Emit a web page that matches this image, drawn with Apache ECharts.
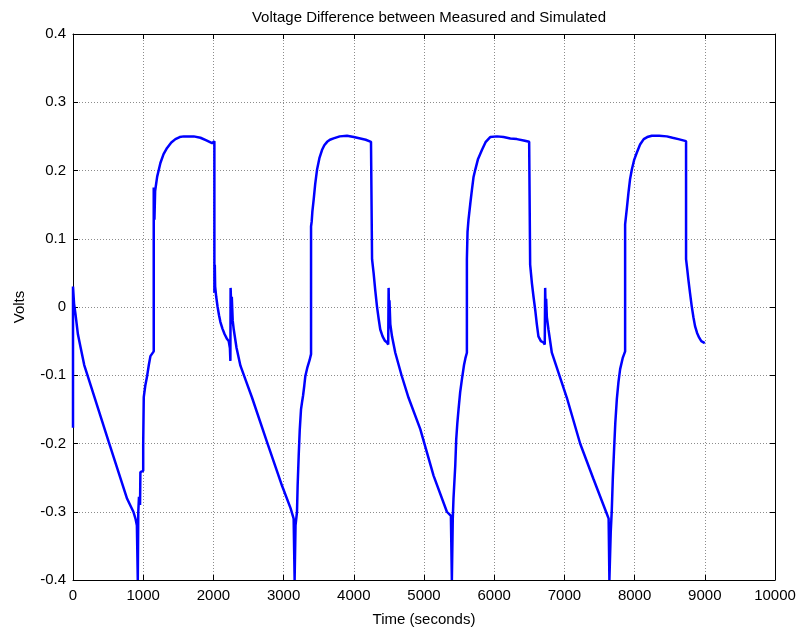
<!DOCTYPE html>
<html>
<head>
<meta charset="utf-8">
<script src="https://cdn.jsdelivr.net/npm/echarts@6/dist/echarts.min.js"></script>
<style>html,body{margin:0;padding:0;background:#fff}#c{width:803px;height:632px}</style>
</head>
<body>
<div id="c"></div>
<script>
const titleText = 'Voltage Difference between Measured and Simulated';
const xName = 'Time (seconds)';
const yName = 'Volts';
const xTicks = [0,1000,2000,3000,4000,5000,6000,7000,8000,9000,10000];
const yTicks = [-0.4,-0.3,-0.2,-0.1,0,0.1,0.2,0.3,0.4];

const timeSec = [
  0,0,15,35,70,110,160,225,510,771,860,890,910,923,930,940,955,960,1000,1000,1008,1030,1056,1080,1103,1150,1150,1160,1170,1199,1220,1245,1290,1340,1400,1459,1520,1578,1720,1815,1900,1981,2014,
  2014,2020,2025,2040,2060,2080,2100,2130,2160,2190,2218,2235,2242,2245,2255,2262,2275,2290,2330,2385,2470,2551,2764,2978,3100,3143,3157,3170,3191,3200,3215,3230,3248,3262,3277,3295,3310,3340,3370,3391,
  3391,3400,3410,3428,3450,3476,3510,3547,3580,3620,3660,3712,3800,3903,4000,4093,4170,4245,4260,
  4260,4282,4305,4330,4355,4377,4410,4440,4473,4490,4496,4502,4508,4520,4544,4591,4680,4780,4947,5136,5326,5383,5397,5410,5420,5445,5459,5475,5492,5515,5540,5570,5590,5611,
  5611,5620,5634,5660,5683,5705,5730,5770,5825,5880,5943,6040,6133,6230,6323,6420,6498,6512,
  6512,6525,6537,6560,6584,6607,6630,6665,6702,6720,6726,6733,6740,6750,6773,6821,7035,7224,7414,7604,7630,7641,7660,7675,7690,7708,7725,7747,7770,7794,7830,7865,
  7865,7890,7912,7935,7960,7995,8031,8078,8130,8180,8245,8350,8458,8540,8624,8733,
  8733,8750,8766,8790,8814,8838,8861,8890,8920,8950,8971,9000
];
const voltDiff = [
  -0.177,0.03,0.005,-0.01,-0.04,-0.06,-0.085,-0.106,-0.198,-0.281,-0.3,-0.31,-0.32,-0.4,-0.3,-0.278,-0.29,-0.242,-0.24,-0.2,-0.132,-0.115,-0.101,-0.085,-0.072,-0.065,0.175,0.128,0.17,0.191,0.2,0.211,0.224,0.233,0.241,0.246,0.249,0.25,0.25,0.248,0.244,0.24,0.243,
  0.021,0.062,0.03,0.015,0.0,-0.012,-0.022,-0.032,-0.04,-0.046,-0.05,-0.06,-0.079,0.028,0.0,0.015,-0.02,-0.033,-0.06,-0.086,-0.11,-0.133,-0.198,-0.262,-0.295,-0.31,-0.4,-0.32,-0.3,-0.262,-0.218,-0.18,-0.15,-0.14,-0.13,-0.115,-0.101,-0.088,-0.078,-0.069,
  0.118,0.125,0.14,0.157,0.18,0.201,0.218,0.23,0.237,0.242,0.245,0.247,0.25,0.251,0.249,0.247,0.245,0.242,0.24,
  0.07,0.05,0.025,0.001,-0.018,-0.033,-0.043,-0.049,-0.052,-0.055,0.028,-0.01,0.01,-0.025,-0.043,-0.067,-0.1,-0.133,-0.179,-0.247,-0.3,-0.306,-0.4,-0.31,-0.281,-0.233,-0.194,-0.17,-0.15,-0.125,-0.106,-0.085,-0.075,-0.067,
  0.07,0.11,0.128,0.152,0.172,0.19,0.201,0.217,0.23,0.242,0.249,0.25,0.249,0.247,0.246,0.244,0.242,0.24,
  0.062,0.048,0.035,0.015,-0.004,-0.025,-0.043,-0.05,-0.052,-0.055,0.028,-0.01,0.012,-0.015,-0.033,-0.067,-0.133,-0.2,-0.252,-0.303,-0.31,-0.4,-0.33,-0.298,-0.25,-0.208,-0.17,-0.135,-0.11,-0.091,-0.075,-0.065,
  0.121,0.145,0.167,0.187,0.201,0.216,0.226,0.238,0.246,0.249,0.251,0.251,0.25,0.248,0.246,0.243,
  0.07,0.055,0.04,0.02,0.001,-0.015,-0.028,-0.038,-0.045,-0.05,-0.052,-0.053
];

const FONT = '"Liberation Sans", Arial, sans-serif';
const chart = echarts.init(document.getElementById('c'), null, {renderer: 'canvas'});
const fmtY = v => { const r = Math.round(v*10)/10; return r === 0 ? '0' : String(r); };
const fmtX = v => String(Math.round(v));
const gridLine = {show: true, lineStyle: {color: '#8c8c8c', type: [1,2], width: 1}};
const axLine = {show: true, onZero: false, lineStyle: {color: '#000', width: 1}};
const tick = {show: true, inside: true, length: 5, lineStyle: {color: '#000'}};

const xMin = xTicks[0], xMax = xTicks[xTicks.length-1], xInt = xTicks[1]-xTicks[0];
const yMin = yTicks[0], yMax = yTicks[yTicks.length-1], yInt = 0.1;

chart.setOption({
  animation: false,
  backgroundColor: '#fff',
  title: {
    text: titleText, left: 424, top: 5, textAlign: 'center',
    textStyle: {fontFamily: FONT, fontSize: 15, fontWeight: 'normal', color: '#000'}
  },
  grid: {left: 73, right: 28, top: 34, bottom: 51, containLabel: false},
  xAxis: [{
    type: 'value', min: xMin, max: xMax, interval: xInt, position: 'bottom',
    name: xName, nameLocation: 'middle', nameGap: 32,
    nameTextStyle: {fontFamily: FONT, fontSize: 15, color: '#000'},
    axisLine: axLine, axisTick: tick, splitLine: gridLine,
    axisLabel: {fontFamily: FONT, fontSize: 15, color: '#000', margin: 8, formatter: fmtX}
  }, {
    type: 'value', min: xMin, max: xMax, interval: xInt, position: 'top',
    axisLine: axLine, axisTick: tick, splitLine: {show: false}, axisLabel: {show: false}
  }],
  yAxis: [{
    type: 'value', min: yMin, max: yMax, interval: yInt, position: 'left',
    name: yName, nameLocation: 'middle', nameGap: 46, nameRotate: 90,
    nameTextStyle: {fontFamily: FONT, fontSize: 15, color: '#000'},
    axisLine: axLine, axisTick: tick, splitLine: gridLine,
    axisLabel: {fontFamily: FONT, fontSize: 15, color: '#000', margin: 7, formatter: fmtY}
  }, {
    type: 'value', min: yMin, max: yMax, interval: yInt, position: 'right',
    axisLine: axLine, axisTick: tick, splitLine: {show: false}, axisLabel: {show: false}
  }],
  series: [{
    type: 'line', xAxisIndex: 0, yAxisIndex: 0,
    data: timeSec.map((t, i) => [t, voltDiff[i]]),
    showSymbol: false, symbol: 'none',
    lineStyle: {color: '#0000ff', width: 2.5},
    clip: true
  }]
});
</script>
</body>
</html>
